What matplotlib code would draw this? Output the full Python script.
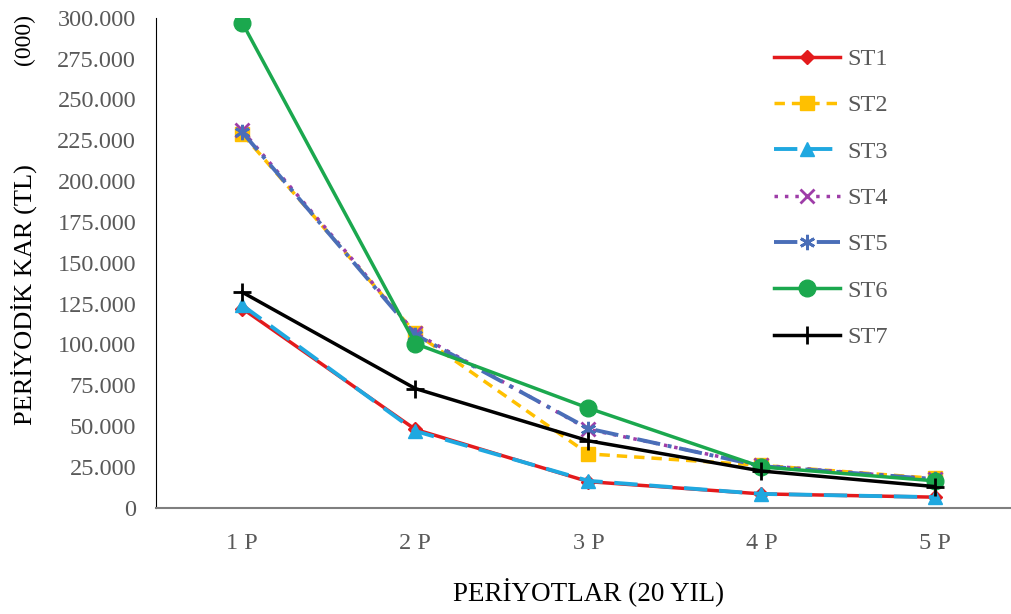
import matplotlib.pyplot as plt
import numpy as np

plt.rcParams['font.family'] = ['Liberation Serif', 'DejaVu Serif']

periods = ['1P', '2P', '3P', '4P', '5P']
st1 = [122, 48, 16, 8.5, 6.5]
st2 = [229, 107, 33, 26, 18]
st3 = [124, 47, 16.5, 8.5, 6.5]
st4 = [231, 107, 48, 26, 17.5]
st5 = [230, 106, 48.5, 25.5, 17.5]
st6 = [297, 100.5, 61, 25, 16.5]
st7 = [132, 73, 41, 22.5, 13]

fig = plt.figure(figsize=(10.11, 6.14), dpi=100)
ax = fig.add_axes([0.154, 0.173, 0.856, 0.798])
x = np.arange(len(periods))

ax.plot(x, st1, color='#E31A1C', lw=2.5, marker='D', ms=7, label='ST1')
ax.plot(x, st2, color='#FFC000', lw=2.5, ls=(0, (3, 2)), marker='s', ms=10, label='ST2')
ax.plot(x, st3, color='#1FA8E0', lw=2.8, ls=(0, (6, 3)), marker='^', ms=10, label='ST3')
ax.plot(x, st4, color='#9E3DA8', lw=2.5, ls=(0, (1, 2)), marker='x', ms=10, mew=2, label='ST4')
ax.plot(x, st5, color='#4A6EB8', lw=2.8, ls=(0, (6, 2, 1, 2)), marker=(6, 2, 0), ms=11, mew=2, label='ST5')
ax.plot(x, st6, color='#1BA84E', lw=2.5, marker='o', ms=12, label='ST6')
ax.plot(x, st7, color='#000000', lw=2.5, marker='+', ms=13, mew=2, label='ST7')

ax.set_xlim(-0.5, 4.5)
ax.set_ylim(0, 300)
ax.set_xticks(x)
ax.set_xticklabels(['%s %s' % (p[0], p[1]) for p in periods])
yt = np.arange(0, 301, 25)
ax.set_yticks(yt)
ax.set_yticklabels(['0'] + ['%d.000' % v for v in yt[1:]])
ax.tick_params(length=0, labelsize=17.5, labelcolor='#595959')
ax.tick_params(axis='x', pad=18)
ax.tick_params(axis='y', pad=14)

for s in ['top', 'right']:
    ax.spines[s].set_visible(False)
ax.spines['left'].set_color('black')
ax.spines['bottom'].set_color('#7f7f7f')
ax.spines['bottom'].set_linewidth(1.5)

ax.set_xlabel('PERİYOTLAR (20 YIL)', fontsize=19.5, labelpad=18)
fig.text(0.024, 0.52, 'PERİYODİK KAR (TL)', rotation=90, fontsize=19, ha='center', va='center')
fig.text(0.024, 0.935, '(000)', rotation=90, fontsize=17, ha='center', va='center')

leg = ax.legend(loc='upper left', bbox_to_anchor=(0.70, 0.963), frameon=False, borderpad=0,
                fontsize=17.5, labelspacing=1.0, handlelength=2.75, handletextpad=0.3)
for t in leg.get_texts():
    t.set_color('#595959')

fig.savefig('out.png', dpi=100)
